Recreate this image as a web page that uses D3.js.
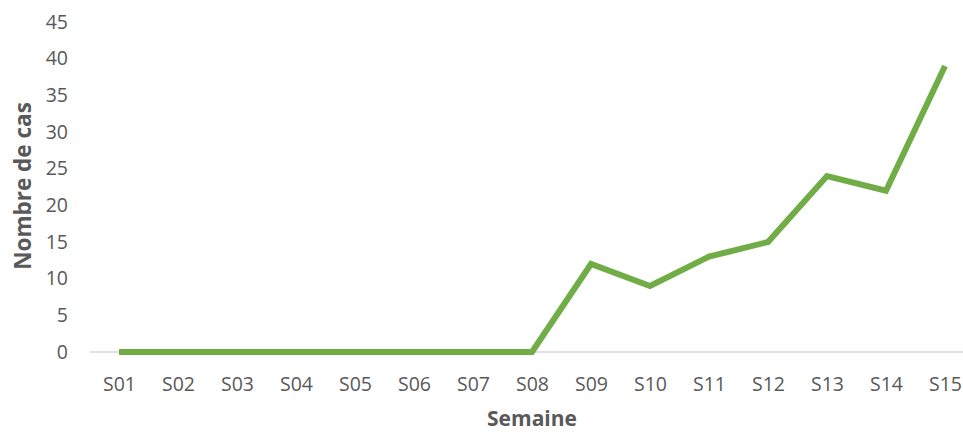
<!DOCTYPE html>
<html>
<head>
<meta charset="utf-8">
<script src="https://cdn.jsdelivr.net/npm/d3@7"></script>
<style>
  html, body { margin: 0; padding: 0; background: #fff; }
  svg { display: block; font-family: "Open Sans", Lato, sans-serif; }
</style>
</head>
<body>
<svg id="chart" width="963" height="432"></svg>
<script>
// Weekly case counts
const weeks = ["S01","S02","S03","S04","S05","S06","S07","S08","S09","S10","S11","S12","S13","S14","S15"];
const cases = [0, 0, 0, 0, 0, 0, 0, 0, 12, 9, 13, 15, 24, 22, 39];
const yTicks = [0, 5, 10, 15, 20, 25, 30, 35, 40, 45];

const svg = d3.select("#chart");

const x = d3.scalePoint().domain(weeks).range([119, 945]);
const y = d3.scaleLinear().domain([0, 45]).range([352, 22]);

// Baseline
svg.append("line")
  .attr("x1", 90).attr("x2", 963)
  .attr("y1", y(0)).attr("y2", y(0))
  .attr("stroke", "#d9d9d9").attr("stroke-width", 1.5);

// Y axis labels
const yAxis = d3.axisLeft(y).tickValues(yTicks).tickSize(0).tickPadding(0);
svg.append("g")
  .attr("transform", "translate(68,0)")
  .call(yAxis)
  .call(g => g.select(".domain").remove())
  .selectAll("text")
  .attr("fill", "#595959")
  .style("font-size", "19.5px")
  .style("font-family", "Open Sans, Lato, sans-serif");

// X axis labels
const xAxis = d3.axisBottom(x).tickSize(0).tickPadding(0);
svg.append("g")
  .attr("transform", "translate(0,377)")
  .call(xAxis)
  .call(g => g.select(".domain").remove())
  .selectAll("text")
  .attr("fill", "#595959")
  .style("font-size", "19.5px")
  .style("font-family", "Open Sans, Lato, sans-serif");

// Case line
const line = d3.line()
  .x((d, i) => x(weeks[i]))
  .y(d => y(d));

svg.append("path")
  .datum(cases)
  .attr("d", line)
  .attr("fill", "none")
  .attr("stroke", "#70ad47")
  .attr("stroke-width", 6)
  .attr("stroke-linejoin", "miter")
  .attr("stroke-linecap", "butt");

// Axis titles
svg.append("text")
  .attr("x", 532).attr("y", 426)
  .attr("text-anchor", "middle")
  .attr("fill", "#595959")
  .attr("font-weight", "bold")
  .style("font-size", "21px")
  .text("Semaine");

svg.append("text")
  .attr("transform", "translate(31,186) rotate(-90)")
  .attr("text-anchor", "middle")
  .attr("fill", "#595959")
  .attr("font-weight", "bold")
  .style("font-size", "22.5px")
  .text("Nombre de cas");
</script>
</body>
</html>
